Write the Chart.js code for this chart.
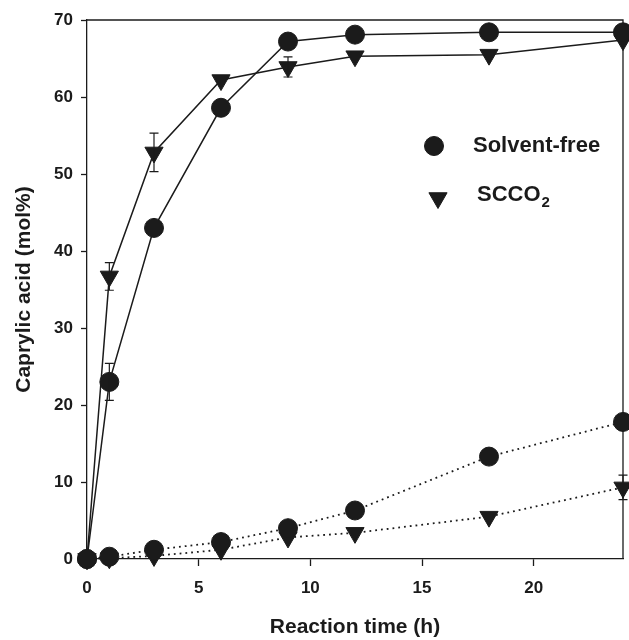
<!DOCTYPE html>
<html>
<head>
<meta charset="utf-8">
<script src="https://cdn.jsdelivr.net/npm/chart.js@4"></script>
<style>
  html, body { margin: 0; padding: 0; background: #fff; }
  #wrap { width: 629px; height: 640px; position: relative; }
</style>
</head>
<body>
<div id="wrap"><canvas id="acidChart"></canvas></div>
<script>
// Reaction times (h)
const times = [0, 1, 3, 6, 9, 12, 18, 24];

// Solid curves
const solventFree = [0, 23.0, 43.0, 58.6, 67.2, 68.1, 68.4, 68.4];
const scco2 = [0, 36.7, 52.8, 62.2, 63.9, 65.3, 65.5, 67.4];

// Dotted curves
const solventFreeDot = [0, 0.3, 1.2, 2.2, 4.0, 6.3, 13.3, 17.8];
const scco2Dot = [0, 0.1, 0.4, 1.2, 2.8, 3.4, 5.5, 9.3];

// error bars (+/-)
const solventFreeErr = [0, 2.4, 0, 0, 0, 0, 0, 0];
const scco2Err = [0, 1.8, 2.5, 0, 1.3, 0, 0, 0];
const solventFreeDotErr = [0, 0, 0, 0, 0, 0, 0, 0];
const scco2DotErr = [0, 0, 0, 0, 0, 0, 0, 1.6];

const xTicks = [0, 5, 10, 15, 20];
const yTicks = [0, 10, 20, 30, 40, 50, 60, 70];

const legendItems = [
  { label: 'Solvent-free', sub: '', style: 'circle', rotation: 0 },
  { label: 'SCCO', sub: '2', style: 'triangle', rotation: 180 }
];

const ink = '#1b1b1b';
const fontFamily = '"Liberation Sans", Arial, sans-serif';

function toPoints(ys) {
  return times.map((t, i) => ({ x: t, y: ys[i] }));
}

function makeSet(label, ys, errs, style, dotted) {
  return {
    label: label,
    data: toPoints(ys),
    errors: errs,
    borderColor: ink,
    backgroundColor: ink,
    borderWidth: dotted ? 1.8 : 1.5,
    borderDash: dotted ? [1.8, 4] : [],
    pointStyle: style,
    pointRadius: style === 'triangle' ? 10.5 : 9.5,
    pointRotation: style === 'triangle' ? 180 : 0,
    pointBorderWidth: 1,
    pointBorderColor: ink,
    pointBackgroundColor: ink,
    tension: 0,
    clip: false
  };
}

// error bars drawn with the chart's own scales
const errorBars = {
  id: 'errorBars',
  afterDatasetsDraw(chart) {
    const { ctx, scales: { x, y } } = chart;
    ctx.save();
    ctx.strokeStyle = ink;
    ctx.lineWidth = 1.2;
    chart.data.datasets.forEach(ds => {
      ds.data.forEach((p, i) => {
        const e = ds.errors[i];
        if (!e) return;
        const px = x.getPixelForValue(p.x);
        const top = y.getPixelForValue(p.y + e);
        const bot = y.getPixelForValue(p.y - e);
        ctx.beginPath();
        ctx.moveTo(px, top); ctx.lineTo(px, bot);
        ctx.moveTo(px - 4.5, top); ctx.lineTo(px + 4.5, top);
        ctx.moveTo(px - 4.5, bot); ctx.lineTo(px + 4.5, bot);
        ctx.stroke();
      });
    });
    ctx.restore();
  }
};

// frame on top and right side + legend inside the plot
const frameAndLegend = {
  id: 'frameAndLegend',
  beforeDatasetsDraw(chart) {
    const { ctx, chartArea: a } = chart;
    ctx.save();
    ctx.strokeStyle = ink;
    ctx.lineWidth = 1.3;
    ctx.beginPath();
    ctx.moveTo(a.left, a.top);
    ctx.lineTo(a.right, a.top);
    ctx.lineTo(a.right, a.bottom);
    ctx.stroke();
    ctx.restore();
  },
  afterDraw(chart) {
    const { ctx, chartArea: a } = chart;
    ctx.save();
    ctx.fillStyle = ink;
    ctx.strokeStyle = ink;
    ctx.textBaseline = 'middle';
    legendItems.forEach((item, i) => {
      const cx = a.left + 347 + (i ? 4 : 0);
      const cy = a.top + 126 + i * 52;
      Chart.helpers.drawPoint(ctx, {
        pointStyle: item.style,
        radius: item.style === 'triangle' ? 10.5 : 9.5,
        rotation: item.rotation,
        borderWidth: 1
      }, cx, cy);
      const tx = a.left + 386 + (i ? 4 : 0);
      const ty = cy - (i ? 3 : 0);
      ctx.font = 'bold 22px ' + fontFamily;
      ctx.fillText(item.label, tx, ty);
      if (item.sub) {
        const w = ctx.measureText(item.label).width;
        ctx.font = 'bold 15px ' + fontFamily;
        ctx.fillText(item.sub, tx + w + 1, ty + 8);
      }
    });
    ctx.restore();
  }
};

const ctx = document.getElementById('acidChart').getContext('2d');
const acidChart = new Chart(ctx, {
  type: 'line',
  data: {
    datasets: [
      makeSet('Solvent-free', solventFree, solventFreeErr, 'circle', false),
      makeSet('SCCO2', scco2, scco2Err, 'triangle', false),
      makeSet('Solvent-free (dotted)', solventFreeDot, solventFreeDotErr, 'circle', true),
      makeSet('SCCO2 (dotted)', scco2Dot, scco2DotErr, 'triangle', true)
    ]
  },
  options: {
    responsive: true,
    maintainAspectRatio: false,
    animation: false,
    layout: { autoPadding: false, padding: { top: 20, right: 6, left: 0, bottom: 0 } },
    plugins: {
      legend: { display: false },
      tooltip: { enabled: false }
    },
    scales: {
      x: {
        type: 'linear',
        min: 0,
        max: 24,
        bounds: 'data',
        afterFit: scale => { scale.height = 81; },
        afterBuildTicks: scale => { scale.ticks = xTicks.map(v => ({ value: v })); },
        border: { display: true, color: ink, width: 1.3 },
        grid: { display: true, drawOnChartArea: false, drawTicks: true, tickLength: 7, color: ink, tickWidth: 1.3 },
        ticks: {
          color: ink,
          padding: 12,
          maxRotation: 0,
          font: { family: fontFamily, size: 17, weight: 'bold' }
        },
        title: {
          display: true,
          text: 'Reaction time (h)',
          color: ink,
          padding: { top: 0, bottom: 0 },
          font: { family: fontFamily, size: 21, weight: 'bold' }
        }
      },
      y: {
        min: 0,
        max: 70,
        afterFit: scale => { scale.width = 87; },
        afterBuildTicks: scale => { scale.ticks = yTicks.map(v => ({ value: v })); },
        border: { display: true, color: ink, width: 1.3 },
        grid: { display: true, drawOnChartArea: false, drawTicks: true, tickLength: 6, color: ink, tickWidth: 1.3 },
        ticks: {
          color: ink,
          padding: 8,
          font: { family: fontFamily, size: 17, weight: 'bold' }
        },
        title: {
          display: true,
          text: 'Caprylic acid (mol%)',
          color: ink,
          padding: { top: 12, bottom: 0 },
          font: { family: fontFamily, size: 21, weight: 'bold' }
        }
      }
    }
  },
  plugins: [errorBars, frameAndLegend]
});
</script>
</body>
</html>
